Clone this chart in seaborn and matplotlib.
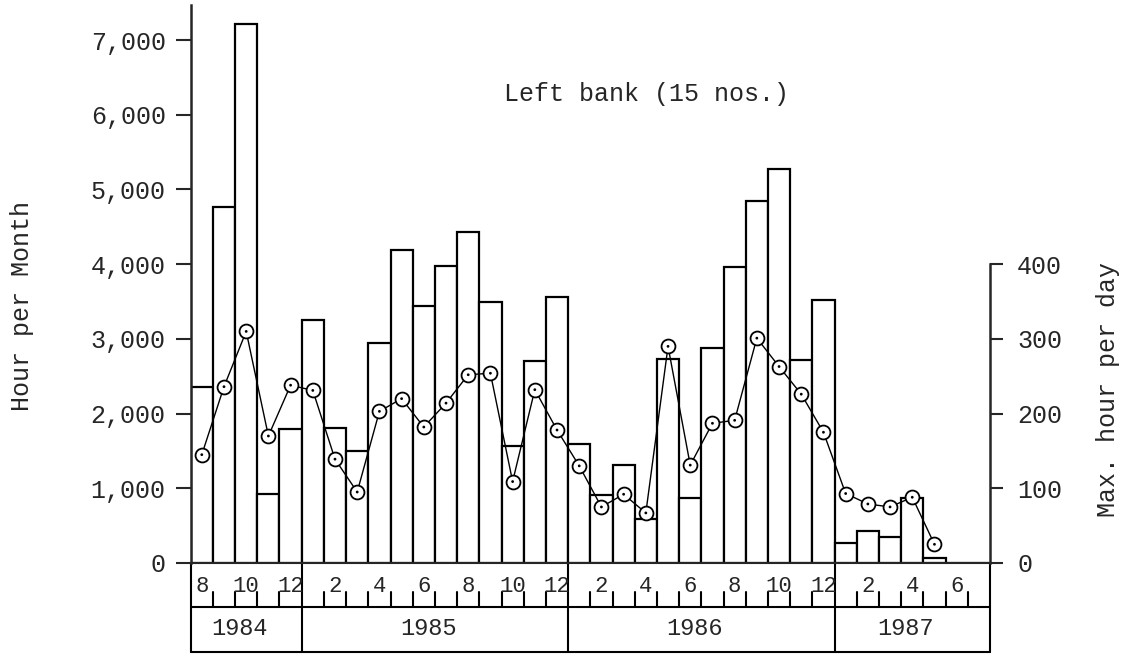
import numpy as np
import pandas as pd
import seaborn as sns
import matplotlib.pyplot as plt

# monthly records, Aug 1984 - Jul 1987
years = [1984, 1985, 1986, 1987]
months_in_year = [5, 12, 12, 7]
first_month = 8

hours_per_month = [2350, 4760, 7220, 920, 1800,
                   3250, 1810, 1500, 2940, 4190, 3440, 3980, 4430, 3500, 1570, 2710, 3560,
                   1590, 910, 1310, 590, 2730, 870, 2880, 3960, 4850, 5270, 2720, 3520,
                   270, 430, 350, 870, 60, 0, 0]

max_hour_per_day = [145, 236, 310, 170, 238,
                    231, 139, 95, 203, 220, 182, 214, 252, 254, 109, 232, 178,
                    130, 75, 92, 67, 290, 131, 187, 191, 301, 263, 226, 175,
                    93, 79, 75, 88, 25, np.nan, np.nan]

left_ticks = [0, 1000, 2000, 3000, 4000, 5000, 6000, 7000]
right_ticks = [0, 100, 200, 300, 400]

sns.set_style("ticks")
plt.rcParams['font.family'] = ['Liberation Mono', 'DejaVu Sans Mono']

n = len(hours_per_month)
month_num = [(first_month - 1 + i) % 12 + 1 for i in range(n)]
df = pd.DataFrame({'idx': np.arange(n), 'month': month_num,
                   'hours': hours_per_month, 'maxday': max_hour_per_day})

fig = plt.figure(figsize=(11.31, 6.56), dpi=100)
ax = fig.add_axes([0.1686, 0.1418, 0.7067, 0.8506])

sns.barplot(data=df, x='idx', y='hours', width=1, color='white', saturation=1,
            edgecolor='black', linewidth=1.6, ax=ax)
ax.set_xlim(-0.5, n - 0.5)
ax.set_ylim(0, 7470)
ax.set_yticks(left_ticks)
ax.set_yticklabels([f"{t:,}" for t in left_ticks])
ax.set_xticks([])
ax.set_xlabel('')
ax.set_ylabel('')
ax.tick_params(axis='y', length=11, width=1.5, pad=7, labelsize=18, direction='out')
for s in ['top', 'right']:
    ax.spines[s].set_visible(False)
ax.spines['left'].set_linewidth(1.8)
ax.spines['bottom'].set_linewidth(1.5)

ax2 = ax.twinx()
ax2.set_position(ax.get_position())
sns.lineplot(data=df, x='idx', y='maxday', color='black', linewidth=1,
             marker='o', markersize=10, markerfacecolor='white',
             markeredgecolor='black', markeredgewidth=1.3, ax=ax2, zorder=5)
sns.scatterplot(data=df, x='idx', y='maxday', color='black', s=4, ax=ax2, zorder=6,
                edgecolor='none')
ax2.set_ylim(0, 747)
ax2.set_xlim(-0.5, n - 0.5)
ax2.set_yticks(right_ticks)
ax2.set_ylabel('')
ax2.tick_params(axis='y', length=9.5, width=1.5, pad=10, labelsize=18, direction='out')
for s in ['top', 'left', 'bottom']:
    ax2.spines[s].set_visible(False)
ax2.spines['right'].set_bounds(0, 400)
ax2.spines['right'].set_linewidth(1.8)

# month / year table under the axis
tr = ax.get_xaxis_transform()
row1 = -0.078
row2 = -0.159
kw = dict(color='black', linewidth=1.5, transform=tr, clip_on=False)
ax.plot([-0.5, n - 0.5], [row1, row1], **kw)
ax.plot([-0.5, n - 0.5], [row2, row2], **kw)
bounds = np.cumsum(months_in_year) - 0.5
for b in [-0.5] + list(bounds):
    ax.plot([b, b], [0, row2], **kw)
for k in range(1, n):
    if k - 0.5 not in bounds:
        ax.plot([k - 0.5, k - 0.5], [row1, -0.052], **kw)
for i in range(0, n, 2):
    ax.text(i, -0.0425, str(month_num[i]), transform=tr, ha='center', va='center',
            fontsize=16)
start = -0.5
for y, m in zip(years, months_in_year):
    ax.text(start + m / 2 - 0.3, -0.118, str(y), transform=tr, ha='center',
            va='center', fontsize=17)
    start += m

fig.text(0.572, 0.857, "Left bank (15 nos.)", ha='center', va='center', fontsize=18)
fig.text(0.0195, 0.5335, "Hour per Month", rotation=90, ha='center', va='center',
         fontsize=18)
fig.text(0.9797, 0.407, "Max. hour per day", rotation=90, ha='center', va='center',
         fontsize=18)

fig.savefig('out.png', dpi=100)
